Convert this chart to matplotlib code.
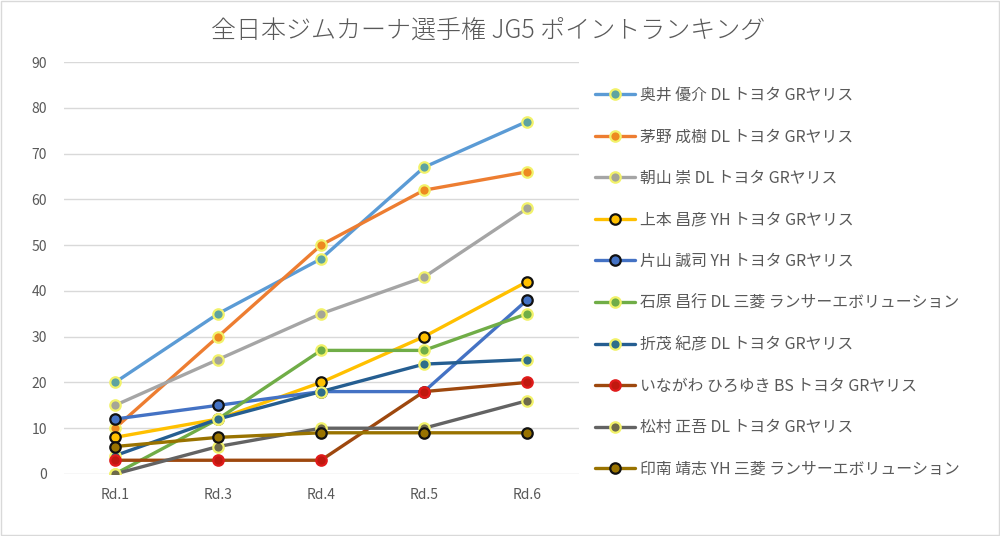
import matplotlib.pyplot as plt

plt.rcParams['font.family'] = ['Noto Sans CJK JP', 'DejaVu Sans']

rounds = ['Rd.1', 'Rd.3', 'Rd.4', 'Rd.5', 'Rd.6']

names = ['奥井 優介 DL トヨタ GRヤリス', '茅野 成樹 DL トヨタ GRヤリス', '朝山 崇 DL トヨタ GRヤリス',
         '上本 昌彦 YH トヨタ GRヤリス', '片山 誠司 YH トヨタ GRヤリス',
         '石原 昌行 DL 三菱 ランサーエボリューション', '折茂 紀彦 DL トヨタ GRヤリス',
         'いながわ ひろゆき BS トヨタ GRヤリス', '松村 正吾 DL トヨタ GRヤリス',
         '印南 靖志 YH 三菱 ランサーエボリューション']

okui = [20, 35, 47, 67, 77]
kayano = [10, 30, 50, 62, 66]
asayama = [15, 25, 35, 43, 58]
uemoto = [8, 12, 20, 30, 42]
katayama = [12, 15, 18, 18, 38]
ishihara = [0, 12, 27, 27, 35]
orimo = [4, 12, 18, 24, 25]
inagawa = [3, 3, 3, 18, 20]
matsumura = [0, 6, 10, 10, 16]
innami = [6, 8, 9, 9, 9]

series = [okui, kayano, asayama, uemoto, katayama, ishihara, orimo, inagawa, matsumura, innami]

# line colour, marker fill, marker edge
styles = [('#5B9BD5', '#5FA3A0', '#F2F26A'),
          ('#ED7D31', '#ED8A20', '#F2F26A'),
          ('#A5A5A5', '#A5A596', '#F2F26A'),
          ('#FFC000', '#FFC000', '#111111'),
          ('#4472C4', '#4472C4', '#111111'),
          ('#70AD47', '#70AD47', '#F2F26A'),
          ('#255E91', '#2F6E8A', '#F2F26A'),
          ('#9E480E', '#C0180F', '#E01B1B'),
          ('#636363', '#6E6A4A', '#F2F26A'),
          ('#997300', '#997300', '#111111')]

fig = plt.figure(figsize=(10, 5.36), dpi=100)
ax = fig.add_axes([0.0635, 0.1157, 0.515, 0.7686])

x = range(len(rounds))
for vals, name, (lc, mf, me) in zip(series, names, styles):
    ax.plot(x, vals, color=lc, lw=2.4, marker='o', ms=7.5, mfc=mf, mec=me, mew=1.6,
            label=name, solid_capstyle='round', zorder=3)

ax.set_xlim(-0.5, 4.5)
ax.set_ylim(0, 90)
ax.set_yticks(range(0, 91, 10))
ax.set_xticks(list(x))
ax.set_xticklabels(rounds)
ax.grid(axis='y', color='#D9D9D9', lw=1)
ax.set_axisbelow(True)
for s in ax.spines.values():
    s.set_visible(False)
ax.tick_params(length=0, colors='#595959', labelsize=10, pad=10)
ax.tick_params(axis='y', pad=12)

ax.legend(loc='upper left', bbox_to_anchor=(0.595, 0.838), bbox_transform=fig.transFigure,
          frameon=False, fontsize=11.4, labelspacing=1.55, handlelength=2.5,
          handletextpad=0.35, labelcolor='#595959', borderaxespad=0, borderpad=0)

fig.suptitle('全日本ジムカーナ選手権 JG5 ポイントランキング', x=0.488, y=0.968,
             fontsize=18, color='#595959', fontweight='light')

fig.patches.append(plt.Rectangle((0.001, 0.002), 0.998, 0.996, transform=fig.transFigure,
                                 fill=False, ec='#D9D9D9', lw=1))

fig.savefig('out.png', dpi=100)
